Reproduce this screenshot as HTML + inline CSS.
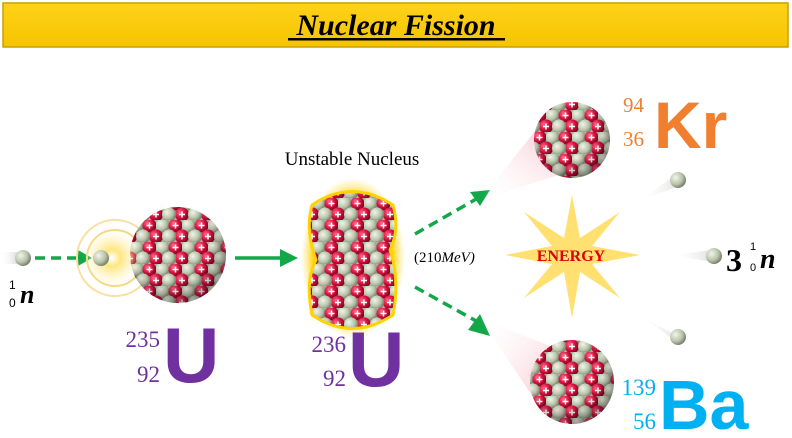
<!DOCTYPE html>
<html><head><meta charset="utf-8"><style>
html,body{margin:0;padding:0;background:#fff;}
svg{display:block;}
text{font-family:"Liberation Sans",sans-serif;}
</style></head><body>
<svg width="792" height="438" viewBox="0 0 792 438" xmlns="http://www.w3.org/2000/svg">
<defs>
<radialGradient id="gb" cx="35%" cy="35%" r="70%"><stop offset="0" stop-color="#f2f4ea"/><stop offset="0.6" stop-color="#b9c4aa"/><stop offset="1" stop-color="#6f7a66"/></radialGradient>
<radialGradient id="rb" cx="35%" cy="35%" r="70%"><stop offset="0" stop-color="#ff6a8a"/><stop offset="0.55" stop-color="#d0103c"/><stop offset="1" stop-color="#7a0020"/></radialGradient>
<pattern id="nuc" width="26" height="22" patternUnits="userSpaceOnUse">
<rect width="26" height="22" fill="#a9b19c"/>
<circle cx="6.5" cy="5.5" r="7" fill="url(#gb)"/>
<circle cx="19.5" cy="5.5" r="7" fill="url(#rb)"/>
<circle cx="0" cy="16.5" r="7" fill="url(#rb)"/>
<circle cx="26" cy="16.5" r="7" fill="url(#rb)"/>
<circle cx="13" cy="16.5" r="7" fill="url(#gb)"/>
<path d="M16.5 5.5h6M19.5 2.5v6M-3 16.5h6M0 13.5v6M23 16.5h6M26 13.5v6" stroke="#fff" stroke-width="1.5"/>
</pattern>
<radialGradient id="shade" cx="40%" cy="35%" r="65%"><stop offset="0.65" stop-color="#000" stop-opacity="0"/><stop offset="1" stop-color="#000" stop-opacity="0.3"/></radialGradient>
<radialGradient id="glow"><stop offset="0.75" stop-color="#ffd200"/><stop offset="1" stop-color="#ffe060" stop-opacity="0"/></radialGradient>
<radialGradient id="flash"><stop offset="0" stop-color="#fff"/><stop offset="0.3" stop-color="#ffe680"/><stop offset="1" stop-color="#fff3c0" stop-opacity="0"/></radialGradient>
<linearGradient id="trailK" x1="1" y1="0" x2="0" y2="1"><stop offset="0" stop-color="#f4a0b0" stop-opacity="0.8"/><stop offset="1" stop-color="#fff" stop-opacity="0"/></linearGradient>
<linearGradient id="trailB" x1="1" y1="1" x2="0" y2="0"><stop offset="0" stop-color="#f4a0b0" stop-opacity="0.8"/><stop offset="1" stop-color="#fff" stop-opacity="0"/></linearGradient>
<linearGradient id="trailN" x1="1" y1="0" x2="0" y2="0"><stop offset="0" stop-color="#c8c8c8"/><stop offset="1" stop-color="#fff" stop-opacity="0"/></linearGradient>
<linearGradient id="hdr" x1="0" y1="0" x2="0" y2="1"><stop offset="0" stop-color="#ffd21a"/><stop offset="1" stop-color="#f5c400"/></linearGradient>
</defs>

<rect x="3" y="3" width="785" height="44" fill="url(#hdr)" stroke="#c9a000" stroke-width="1.5"/>
<text x="396" y="35" text-anchor="middle" font-style="italic" font-weight="bold" font-size="30" fill="#000" style="font-family:'Liberation Serif',serif">Nuclear Fission</text>
<rect x="288" y="38" width="217" height="2.5" fill="#000"/>

<rect x="0" y="252" width="22" height="12" fill="url(#trailN)"/>
<circle cx="23" cy="258" r="8" fill="url(#gb)"/>
<line x1="35" y1="258" x2="80" y2="258" stroke="#12a84a" stroke-width="3.5" stroke-dasharray="10,6"/>
<polygon points="78,250 92,258 78,266" fill="#12a84a"/>
<text x="9" y="289" font-size="12">1</text>
<text x="9" y="307" font-size="12">0</text>
<text x="20" y="303" font-size="26" font-style="italic" font-weight="bold" style="font-family:'Liberation Serif',serif">n</text>

<circle cx="115" cy="258" r="38" fill="none" stroke="#f8e0a0" stroke-width="2"/>
<circle cx="115" cy="258" r="28" fill="none" stroke="#f6d880" stroke-width="2"/>
<circle cx="178" cy="255" r="48" fill="url(#nuc)"/>
<circle cx="178" cy="255" r="48" fill="url(#shade)"/>
<circle cx="112" cy="258" r="28" fill="url(#flash)"/>
<circle cx="101" cy="258" r="8" fill="url(#gb)"/>
<text x="160" y="347" text-anchor="end" font-size="23" fill="#7030a0" style="font-family:'Liberation Serif',serif">235</text>
<text x="160" y="382" text-anchor="end" font-size="23" fill="#7030a0" style="font-family:'Liberation Serif',serif">92</text>
<text x="163" y="382" font-size="78" font-weight="bold" fill="#7030a0">U</text>

<line x1="235" y1="258" x2="282" y2="258" stroke="#12a84a" stroke-width="3.5"/>
<polygon points="280,249 298,258 280,267" fill="#12a84a"/>

<text x="352" y="165" text-anchor="middle" font-size="19" style="font-family:'Liberation Serif',serif">Unstable Nucleus</text>
<ellipse cx="353" cy="258" rx="52" ry="80" fill="url(#glow)"/>
<path d="M312 205 Q352 178 393 205 Q400 230 390 250 Q400 280 393 315 Q352 342 312 315 Q305 280 316 260 Q305 230 312 205Z" fill="url(#nuc)" stroke="#ffd200" stroke-width="3"/>
<text x="346" y="352" text-anchor="end" font-size="23" fill="#7030a0" style="font-family:'Liberation Serif',serif">236</text>
<text x="346" y="386" text-anchor="end" font-size="23" fill="#7030a0" style="font-family:'Liberation Serif',serif">92</text>
<text x="348" y="386" font-size="78" font-weight="bold" fill="#7030a0">U</text>

<line x1="415" y1="234" x2="478" y2="198" stroke="#12a84a" stroke-width="3.5" stroke-dasharray="10,6"/>
<polygon points="470,192 490,190 480,206" fill="#12a84a"/>
<line x1="415" y1="287" x2="478" y2="322" stroke="#12a84a" stroke-width="3.5" stroke-dasharray="10,6"/>
<polygon points="480,314 490,336 468,330" fill="#12a84a"/>
<text x="414" y="262" font-size="15" style="font-family:'Liberation Serif',serif">(210<tspan font-style="italic">MeV)</tspan></text>

<polygon points="572,195 580,238 620,212 592,246 640,255 592,264 620,298 580,272 572,318 564,272 524,298 552,264 505,255 552,246 524,212 564,238" fill="#ffe070"/>
<text x="571" y="261" text-anchor="middle" font-size="16" font-weight="bold" fill="#e00000" style="font-family:'Liberation Serif',serif">ENERGY</text>

<polygon points="480,200 540,125 575,170" fill="url(#trailK)"/>
<circle cx="572" cy="140" r="38" fill="url(#nuc)"/>
<circle cx="572" cy="140" r="38" fill="url(#shade)"/>
<text x="644" y="112" text-anchor="end" font-size="21" fill="#f08030" style="font-family:'Liberation Serif',serif">94</text>
<text x="644" y="146" text-anchor="end" font-size="21" fill="#f08030" style="font-family:'Liberation Serif',serif">36</text>
<text x="654" y="148" font-size="66" font-weight="bold" fill="#f08030">Kr</text>

<polygon points="480,318 560,350 545,415" fill="url(#trailB)"/>
<circle cx="572" cy="382" r="42" fill="url(#nuc)"/>
<circle cx="572" cy="382" r="42" fill="url(#shade)"/>
<text x="656" y="395" text-anchor="end" font-size="23" fill="#00b0f0" style="font-family:'Liberation Serif',serif">139</text>
<text x="656" y="429" text-anchor="end" font-size="23" fill="#00b0f0" style="font-family:'Liberation Serif',serif">56</text>
<text x="659" y="429" font-size="70" font-weight="bold" fill="#00b0f0">Ba</text>

<polygon points="640,200 674,176 680,186" fill="url(#trailN)" opacity="0.6"/>
<circle cx="678" cy="180" r="8" fill="url(#gb)"/>
<polygon points="672,255 712,250 712,262" fill="url(#trailN)" opacity="0.6"/>
<circle cx="714" cy="256" r="8" fill="url(#gb)"/>
<polygon points="640,316 674,334 680,344" fill="url(#trailN)" opacity="0.6"/>
<circle cx="678" cy="337" r="8" fill="url(#gb)"/>
<text x="726" y="271" font-size="32" font-weight="bold" style="font-family:'Liberation Serif',serif">3</text>
<text x="750" y="250" font-size="11">1</text>
<text x="750" y="271" font-size="11">0</text>
<text x="760" y="268" font-size="28" font-style="italic" font-weight="bold" style="font-family:'Liberation Serif',serif">n</text>
</svg>
</body></html>
